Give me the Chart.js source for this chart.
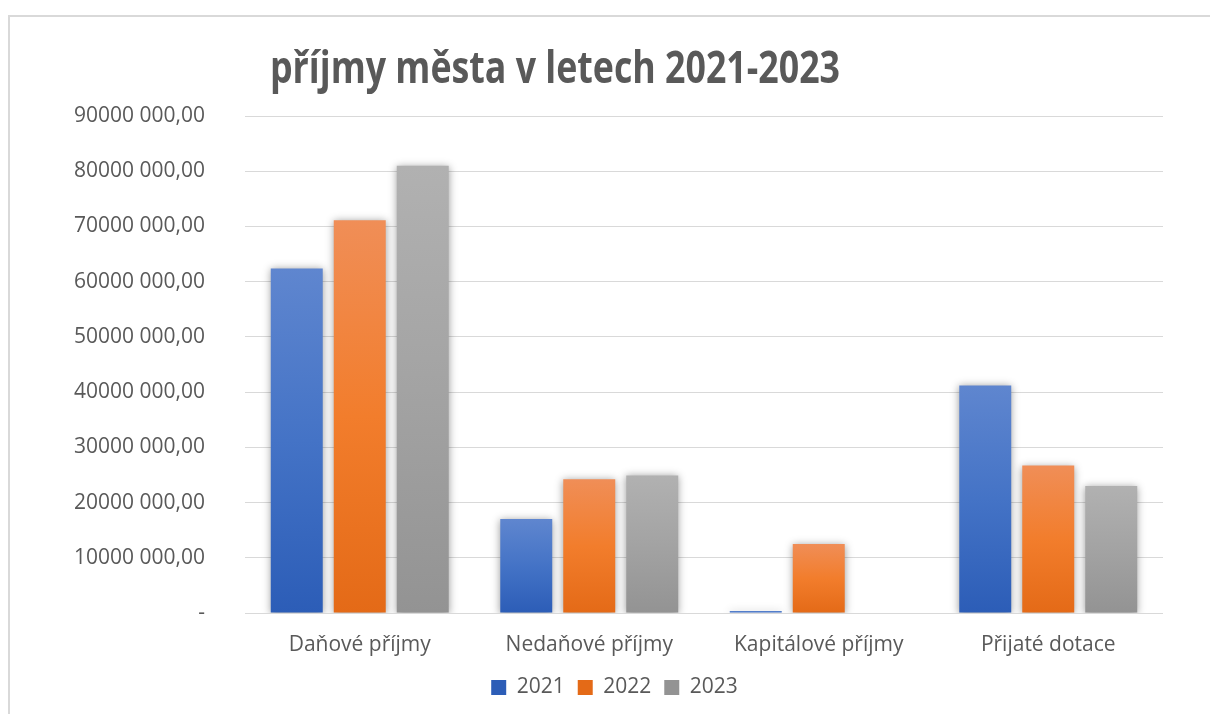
<!DOCTYPE html>
<html>
<head>
<meta charset="utf-8">
<script src="https://cdn.jsdelivr.net/npm/chart.js@4/dist/chart.umd.min.js"></script>
<style>
  html, body { margin: 0; padding: 0; background: #ffffff; }
  #frame { position: absolute; left: 8px; top: 15px; width: 1300px; height: 800px;
           border-left: 2px solid #d9d9d9; border-top: 2px solid #d9d9d9; box-sizing: border-box; }
  #wrap { position: absolute; left: 0; top: 0; width: 1210px; height: 714px; }
  #title { position: absolute; left: 270px; top: 44px; white-space: nowrap;
           font-family: "Open Sans", sans-serif; font-weight: 700; font-size: 44px;
           color: #595959; transform-origin: 0 0; line-height: 1; }
</style>
</head>
<body>
<div id="frame"></div>
<div id="wrap"><canvas id="c" width="1210" height="714"></canvas></div>
<div id="title">příjmy města v letech 2021-2023</div>
<script>
// ---- data ----
const categories = ['Daňové příjmy', 'Nedaňové příjmy', 'Kapitálové příjmy', 'Přijaté dotace'];
const seriesNames = ['2021', '2022', '2023'];
const values2021 = [62400000, 17000000, 350000, 41200000];
const values2022 = [71100000, 24200000, 12500000, 26700000];
const values2023 = [81000000, 24900000, 80000, 23000000];
const yTickLabels = ['-', '10000 000,00', '20000 000,00', '30000 000,00', '40000 000,00',
  '50000 000,00', '60000 000,00', '70000 000,00', '80000 000,00', '90000 000,00'];

// ---- styles ----
const TEXT = '#595959';
function makeFill(stops, mid) {
  return (ctx) => {
    const chart = ctx.chart;
    if (ctx.type !== 'data' || !chart.scales || !chart.scales.y) return mid;
    const y = chart.scales.y;
    const top = y.getPixelForValue(ctx.raw), bot = y.getPixelForValue(0);
    if (!isFinite(top) || !isFinite(bot) || Math.abs(bot - top) < 1) return mid;
    const g = chart.ctx.createLinearGradient(0, top, 0, bot);
    g.addColorStop(0, stops[0]); g.addColorStop(0.5, stops[1]); g.addColorStop(1, stops[2]);
    return g;
  };
}
const fills = [
  makeFill(['#5f86cf', '#4473c6', '#2c5db7'], '#4472c4'),
  makeFill(['#f08e57', '#f27d2c', '#e46a17'], '#ed7d31'),
  makeFill(['#b1b1b1', '#a3a3a3', '#939393'], '#a5a5a5')
];

const barShadow = {
  id: 'barShadow',
  beforeDatasetsDraw(chart) {
    const c = chart.ctx; c.save();
    c.shadowColor = 'rgba(0,0,0,0.4)'; c.shadowBlur = 8; c.shadowOffsetX = 0; c.shadowOffsetY = 1;
  },
  afterDatasetsDraw(chart) { chart.ctx.restore(); }
};

const allValues = [values2021, values2022, values2023];
const datasets = seriesNames.map((name, i) => ({
  label: name,
  data: allValues[i],
  backgroundColor: fills[i],
  borderWidth: 0,
  categoryPercentage: 0.8235,
  barPercentage: 0.825
}));

const FONT = { family: 'Open Sans', size: 21 };

new Chart(document.getElementById('c'), {
  type: 'bar',
  data: { labels: categories, datasets },
  plugins: [barShadow],
  options: {
    responsive: false,
    animation: false,
    layout: { padding: { left: 66, right: 47, top: 116, bottom: 6 } },
    plugins: {
      title: { display: false },
      tooltip: { enabled: false },
      legend: {
        position: 'bottom',
        labels: { color: TEXT, font: FONT, boxWidth: 15, boxHeight: 15, padding: 13 }
      }
    },
    scales: {
      y: {
        min: 0, max: 90000000,
        border: { display: false },
        grid: { color: '#d9d9d9', lineWidth: 1, drawTicks: false },
        ticks: {
          stepSize: 10000000, padding: 40, color: TEXT, font: FONT,
          callback: (v) => yTickLabels[Math.round(v / 10000000)]
        },
        afterFit: (s) => { s.width = 179; }
      },
      x: {
        border: { display: false },
        grid: { display: false, drawTicks: false },
        ticks: { padding: 19, color: TEXT, font: FONT, maxRotation: 0 },
        afterFit: (s) => { s.height = 51; }
      }
    }
  }
});

// fit title width to the reference
(function () {
  const t = document.getElementById('title');
  const w = t.getBoundingClientRect().width;
  t.style.transform = 'scaleX(' + (570 / w) + ')';
})();
</script>
</body>
</html>
